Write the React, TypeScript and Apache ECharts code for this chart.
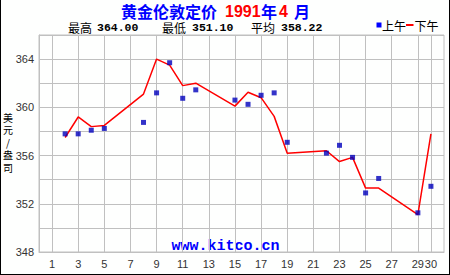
import React, { useEffect, useRef } from "react";
import * as echarts from "echarts";

// Days of April 1991 (x axis positions 0..31)
const dayCategories: string[] = [
  "0", "1", "2", "3", "4", "5", "6", "7", "8", "9", "10", "11", "12", "13", "14", "15",
  "16", "17", "18", "19", "20", "21", "22", "23", "24", "25", "26", "27", "28", "29", "30", "31",
];
const labelDays: number[] = [1, 3, 5, 7, 9, 11, 13, 15, 17, 19, 21, 23, 25, 27, 29, 30];
const yLabels: number[] = [348, 352, 356, 360, 364];

const tradingDays: number[] = [2, 3, 4, 5, 8, 9, 10, 11, 12, 15, 16, 17, 18, 19, 22, 23, 24, 25, 26, 29, 30];
const amPrices: number[] = [
  357.8, 357.8, 358.1, 358.25, 358.75, 361.2, 363.7, 360.75, 361.45, 360.6, 360.25,
  361.0, 361.2, 357.1, 356.2, 356.85, 355.85, 352.9, 354.1, 351.25, 353.45,
];
const pmPrices: number[] = [
  357.5, 359.2, 358.4, 358.5, 361.1, 364.0, 363.5, 361.8, 362.0, 360.1, 361.25,
  360.8, 359.25, 356.2, 356.4, 355.5, 355.85, 353.3, 353.3, 351.1, 357.8,
];

const seriesNames = ["上午", "下午"];
const titleParts = ["黄金伦敦定价", "1991", "年", "4", "月"];
const statLabels = ["最高", "最低", "平均"];
const statValues = ["364.00", "351.10", "358.22"];
const unitChars = ["美", "元", "/", "盎", "司"];

const CJK = '"Noto Sans CJK SC", sans-serif';
const SANS = '"Liberation Sans", Arial, sans-serif';
const MONO = '"Liberation Mono", "DejaVu Sans Mono", monospace';

export default function App() {
  const ref = useRef<HTMLDivElement>(null);
  useEffect(() => {
    if (!ref.current) return;
    const chart = echarts.init(ref.current, undefined, { renderer: "svg" });
    const isLabelIdx = (idx: number) => labelDays.indexOf(idx) >= 0;
    const amData = tradingDays.map((d, i) => [String(d), amPrices[i]]);
    const pmData = tradingDays.map((d, i) => [String(d), pmPrices[i]]);
    const statX = [68, 162, 251];
    const statNumX = [97, 192, 281];
    const titleX = [121, 225, 261, 279, 294];
    const titleColors = ["#0000ff", "#ff0000", "#0000ff", "#ff0000", "#0000ff"];
    const titleFonts = [CJK, SANS, CJK, SANS, CJK];
    chart.setOption({
      animation: false,
      backgroundColor: "#fefffe",
      grid: {
        left: 39,
        right: 6,
        top: 35,
        bottom: 23,
        show: true,
        borderColor: "#c0c0c0",
        borderWidth: 1,
      },
      xAxis: {
        type: "category",
        data: dayCategories,
        boundaryGap: false,
        axisLine: { show: true, lineStyle: { color: "#c0c0c0" } },
        axisTick: { show: false },
        axisLabel: {
          interval: (idx: number) => isLabelIdx(idx),
          color: "#333",
          fontSize: 11,
          fontFamily: SANS,
          margin: 6,
        },
        splitLine: {
          show: true,
          interval: (idx: number) => isLabelIdx(idx),
          lineStyle: { color: "#c0c0c0", width: 1 },
        },
      },
      yAxis: {
        type: "value",
        min: 348,
        max: 366,
        interval: 2,
        axisLine: { show: true, lineStyle: { color: "#c0c0c0" } },
        axisTick: { show: false },
        axisLabel: {
          formatter: (v: number) => (yLabels.indexOf(v) >= 0 ? String(v) : ""),
          color: "#333",
          fontSize: 11,
          fontFamily: SANS,
          margin: 5,
        },
        splitLine: { show: true, lineStyle: { color: "#c0c0c0", width: 1 } },
      },
      series: [
        {
          name: seriesNames[1],
          type: "line",
          data: pmData,
          symbol: "none",
          lineStyle: { color: "#ff0000", width: 1.5 },
          z: 2,
        },
        {
          name: seriesNames[0],
          type: "scatter",
          data: amData,
          symbol: "rect",
          symbolSize: 5,
          itemStyle: { color: "#0000bb" },
          z: 3,
        },
      ],
      graphic: [
        {
          type: "rect",
          shape: { x: 0, y: -5, width: 450, height: 280 },
          style: { fill: "none", stroke: "#000", lineWidth: 2 },
          silent: true,
        },
        ...titleParts.map((s, i) => ({
          type: "text",
          x: titleX[i],
          y: 11,
          style: {
            text: s,
            fontSize: 16,
            fontWeight: "bold",
            fontFamily: titleFonts[i],
            fill: titleColors[i],
            textVerticalAlign: "middle",
          },
        })),
        ...statLabels.map((s, i) => ({
          type: "text",
          x: statX[i],
          y: 27,
          style: { text: s, fontSize: 12, fontFamily: CJK, fill: "#000", textVerticalAlign: "middle" },
        })),
        ...statValues.map((s, i) => ({
          type: "text",
          x: statNumX[i],
          y: 27,
          style: {
            text: s,
            fontSize: 11.5,
            fontWeight: "bold",
            fontFamily: MONO,
            fill: "#000",
            textVerticalAlign: "middle",
          },
        })),
        {
          type: "rect",
          shape: { x: 376.5, y: 22.5, width: 5, height: 5 },
          style: { fill: "#0000ff" },
        },
        {
          type: "text",
          x: 382,
          y: 25.5,
          style: { text: seriesNames[0], fontSize: 12, fontFamily: CJK, fill: "#000", textVerticalAlign: "middle" },
        },
        {
          type: "line",
          shape: { x1: 406, y1: 25, x2: 413.5, y2: 25 },
          style: { stroke: "#ff0000", lineWidth: 2 },
        },
        {
          type: "text",
          x: 414.5,
          y: 25.5,
          style: { text: seriesNames[1], fontSize: 12, fontFamily: CJK, fill: "#000", textVerticalAlign: "middle" },
        },
        ...unitChars.map((c, i) => ({
          type: "text",
          x: 8,
          y: 117 + i * 12.5,
          style: {
            text: c,
            fontSize: 10,
            fontFamily: CJK,
            fill: "#000",
            textAlign: "center",
            textVerticalAlign: "middle",
          },
        })),
        {
          type: "text",
          x: 225.5,
          y: 246,
          style: {
            text: "www.kitco.cn",
            fontSize: 15,
            fontWeight: "bold",
            fontFamily: MONO,
            fill: "#0000ff",
            textAlign: "center",
            textVerticalAlign: "middle",
          },
        },
      ],
    });
    return () => chart.dispose();
  }, []);
  return (
    <div
      ref={ref}
      style={{ position: "absolute", left: 0, top: 0, width: 450, height: 275 }}
    />
  );
}
